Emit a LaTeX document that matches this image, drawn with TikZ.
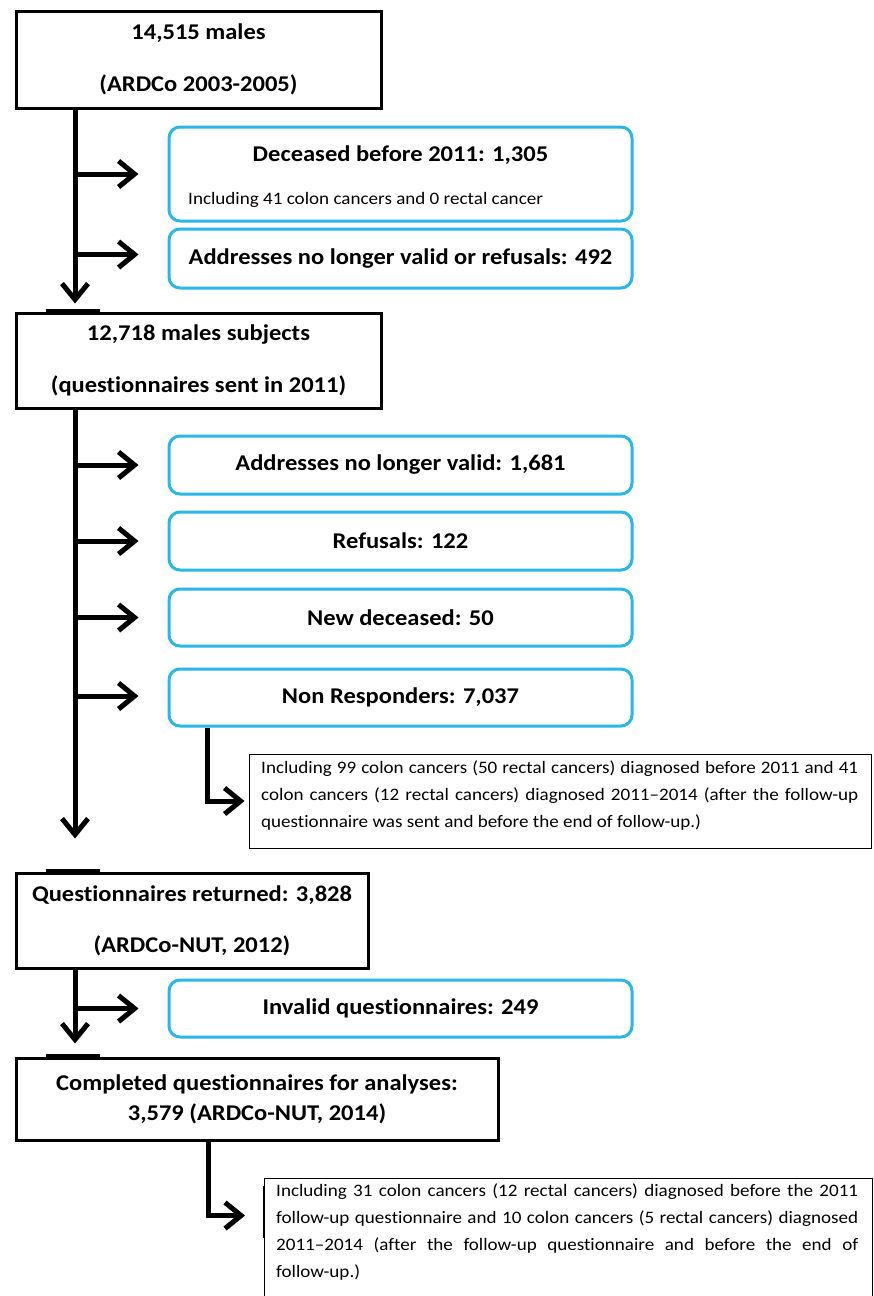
\documentclass[tikz,border=0pt]{standalone}
\usepackage{fontspec}
\setmainfont[Ligatures=NoCommon,FakeStretch=1.09]{Carlito}
\usetikzlibrary{arrows.meta,calc}
\definecolor{boxblue}{RGB}{41,182,232}
\begin{document}
\begin{tikzpicture}[x=1pt,y=1pt,
  mainbox/.style={draw=black,line width=3pt,rectangle,inner sep=0pt,align=center,font=\fontsize{22.5}{27}\selectfont\bfseries},
  bluebox/.style={draw=boxblue,line width=3pt,rounded corners=11pt,minimum width=463pt,inner sep=0pt,align=center,font=\fontsize{22.5}{27}\selectfont\bfseries},
  boldtxt/.style={inner sep=0pt,font=\fontsize{22.5}{27}\selectfont\bfseries},
  smalltxt/.style={inner sep=0pt,font=\fontsize{17.5}{21}\selectfont},
  notebox/.style={draw=black,line width=1pt,rectangle,inner sep=0pt},
  notetext/.style={inner sep=0pt,align=left,anchor=north west,font=\fontsize{17.5}{27}\selectfont},
  flow/.style={line width=5pt,-{Straight Barb[length=16pt,width=26pt]},
    preaction={draw=black!25,transform canvas={shift={(1.5pt,-2pt)}}}},
  tab/.style={line width=5pt},
]
\useasboundingbox (0,0) rectangle (873,-1296);
\coordinate (spine) at (75,0);
\coordinate (n1x) at (207,0);
\coordinate (n2x) at (208,0);

% main boxes
\node[mainbox,minimum width=365pt,minimum height=97pt] (b1) at (198.5,-59.5) {14,515 males\\[25pt](ARDCo 2003-2005)};
\node[mainbox,minimum width=365pt,minimum height=95pt] (b2) at (198.5,-360.5) {12,718 males subjects\\[25pt](questionnaires sent in 2011)};
\node[mainbox,minimum width=352pt,minimum height=95pt] (b3) at (192,-920.5) {Questionnaires returned: 3,828\\[24pt](ARDCo-NUT, 2012)};
\node[mainbox,minimum width=482pt,minimum height=82pt] (b4) at (257,-1099) {Completed questionnaires for analyses:\\[3pt]3,579 (ARDCo-NUT, 2014)};

% blue boxes
\node[bluebox,minimum height=94pt] (dec) at (400.5,-174) {};
\node[boldtxt] (dect) at (400.5,-155) {Deceased before 2011: 1,305};
\node[smalltxt,anchor=west] (decs) at (188,-200) {Including 41 colon cancers and 0 rectal cancer};
\node[bluebox,minimum height=59pt] (addr1) at (400.5,-258.5) {Addresses no longer valid or refusals: 492};
\node[bluebox,minimum height=58pt] (addr2) at (400.5,-465) {Addresses no longer valid: 1,681};
\node[bluebox,minimum height=58pt] (ref) at (400.5,-541) {Refusals: 122};
\node[bluebox,minimum height=57pt] (newd) at (400.5,-617.5) {New deceased: 50};
\node[bluebox,minimum height=57pt] (nr) at (400.5,-697.5) {Non Responders: 7,037};
\node[bluebox,minimum height=57pt] (inv) at (400.5,-1008.5) {Invalid questionnaires: 249};

% note boxes
\node[notebox,minimum width=622pt,minimum height=94pt] (n1) at (560,-801) {};
\node[notetext] (n1t) at (261,-760) {\makebox[597pt][s]{Including 99 colon cancers (50 rectal cancers) diagnosed before 2011 and 41}\\
\makebox[597pt][s]{colon cancers (12 rectal cancers) diagnosed 2011--2014 (after the follow-up}\\
questionnaire was sent and before the end of follow-up.)};
\node[notebox,minimum width=608pt,minimum height=140pt,anchor=north west] (n2) at (264,-1178) {};
\node[notetext] (n2t) at (276,-1183) {\makebox[582pt][s]{Including 31 colon cancers (12 rectal cancers) diagnosed before the 2011}\\
\makebox[582pt][s]{follow-up questionnaire and 10 colon cancers (5 rectal cancers) diagnosed}\\
\makebox[582pt][s]{2011--2014 (after the follow-up questionnaire and before the end of}\\
follow-up.)};
\draw[line width=2.5pt] ($(n2.north west)+(0,-8)$) -- ++(0,-52);

% tabs on top edges
\draw[tab] ($(b2.north west)+(31,0)$) -- ++(54,0);
\draw[tab] ($(b3.north west)+(31,0)$) -- ++(54,0);
\draw[tab] ($(b4.north west)+(31,0)$) -- ++(54,0);

% trunk 1
\draw[flow,shorten >=8pt] (b1.south -| spine) -- (b2.north -| spine);
\draw[flow,shorten >=29pt] (dec.west -| spine) -- (dec.west);
\draw[flow,shorten >=29pt] ([yshift=4pt]addr1.west -| spine) -- ([yshift=4pt]addr1.west);
% trunk 2
\draw[flow,shorten >=33pt] (b2.south -| spine) -- (b3.north -| spine);
\draw[flow,shorten >=29pt] (addr2.west -| spine) -- (addr2.west);
\draw[flow,shorten >=29pt] (ref.west -| spine) -- (ref.west);
\draw[flow,shorten >=29pt] (newd.west -| spine) -- (newd.west);
\draw[flow,shorten >=29pt] ([yshift=1.5pt]nr.west -| spine) -- ([yshift=1.5pt]nr.west);
% trunk 3
\draw[flow,shorten >=13pt] (b3.south -| spine) -- (b4.north -| spine);
\draw[flow,shorten >=29pt] (inv.west -| spine) -- (inv.west);
% note arrows
\draw[flow,shorten >=4pt] (nr.south -| n1x) |- (n1.west);
\draw[flow,shorten >=19pt] (b4.south -| n2x) |- ([yshift=33pt]n2.west);
\end{tikzpicture}
\end{document}
